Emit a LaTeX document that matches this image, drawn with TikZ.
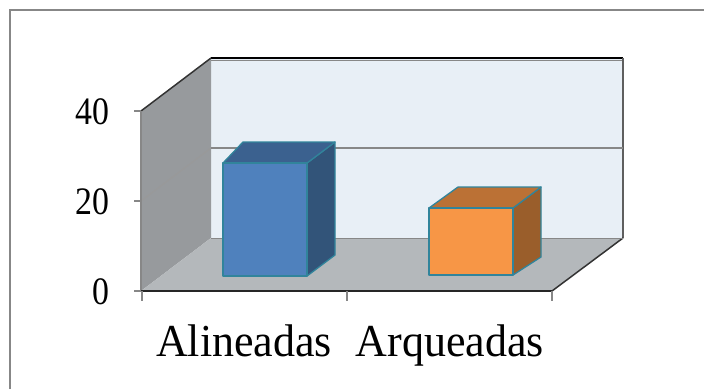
\documentclass[tikz,border=0pt]{standalone}
\usepackage{fontspec}
\setmainfont{Liberation Serif}
\definecolor{backwall}{HTML}{E8EFF6}
\definecolor{sidewall}{HTML}{979A9D}
\definecolor{floorgray}{HTML}{B4B8BB}
\definecolor{gridgray}{HTML}{878787}
\definecolor{barteal}{HTML}{31849B}
\definecolor{bluefront}{HTML}{4F81BD}
\definecolor{bluetop}{HTML}{3B618F}
\definecolor{blueside}{HTML}{325479}
\definecolor{orangefront}{HTML}{F79646}
\definecolor{orangetop}{HTML}{BB7135}
\definecolor{orangeside}{HTML}{9A5E2B}
\newcommand{\tallish}[1]{\scalebox{0.94}[1.08]{#1}}
\newcommand{\catstretch}[1]{\scalebox{1}[1.04]{#1}}
\tikzset{
  barface/.style = {draw = barteal, line width = 1.3pt, line join = round},
  ticklabel/.style = {anchor = east, font = \fontsize{36}{36}\selectfont},
  catlabel/.style = {font = \fontsize{44}{44}\selectfont}
}
\begin{document}
\begin{tikzpicture}[x = 1pt, y = -1pt]
  \useasboundingbox (0, 0) rectangle (704, 389);
  % walls and floor
  \fill [backwall] (211, 58) rectangle (623, 238);
  \fill [sidewall] (141, 111) -- (211, 58) -- (211, 238) -- (141, 291) -- cycle;
  \fill [floorgray] (141, 291) -- (211, 238) -- (623, 238) -- (552, 291) -- cycle;
  \draw [line width = 1.5pt] (211, 58) -- (623, 58);
  \draw [gridgray, line width = 1pt] (211, 60) -- (623, 60);
  \draw [gridgray!70!black, line width = 1.5pt] (623, 58) -- (623, 238);
  \draw [black!80, line width = 1.5pt] (141, 111) -- (211, 58);
  \draw [black!80, line width = 1.5pt] (552, 291) -- (623, 238);
  \draw [gridgray, line width = 1pt] (211, 238) -- (623, 238);
  % gridline at 20
  \draw [gridgray!85, line width = 1pt] (141, 201) -- (211, 148);
  \draw [gridgray, line width = 2pt] (211, 148) -- (623, 148);
  % blue bar
  \draw [barface, fill = blueside] (307, 163) -- (335, 142) -- (335, 255) -- (307, 276) -- cycle;
  \draw [barface, fill = bluetop] (223, 163) -- (243, 142) -- (335, 142) -- (307, 163) -- cycle;
  \draw [barface, fill = bluefront] (223, 163) rectangle (307, 276);
  % orange bar
  \draw [barface, fill = orangeside] (513, 208) -- (541, 187) -- (541, 257) -- (513, 275) -- cycle;
  \draw [barface, fill = orangetop] (429, 208) -- (458, 187) -- (541, 187) -- (513, 208) -- cycle;
  \draw [barface, fill = orangefront] (429, 208) rectangle (513, 275);
  % axes and ticks
  \draw [gridgray, line width = 1.5pt] (141, 111) -- (141, 291);
  \draw [black!85, line width = 1.5pt] (141, 291) -- (552, 291);
  \foreach \ty in {111, 201, 291}
    \draw [gridgray, line width = 1.5pt] (134, \ty) -- (141, \ty);
  \foreach \tx in {142, 347, 552}
    \draw [gridgray, line width = 1.5pt] (\tx, 291) -- (\tx, 301);
  % labels
  \node [ticklabel] (lab40) at (113, 112) {\tallish{40}};
  \node [ticklabel] (lab20) at (113, 202) {\tallish{20}};
  \node [ticklabel] (lab0) at (113, 292) {\tallish{0}};
  \node [catlabel, anchor = base] (alin) at (244, 356) {\catstretch{Alineadas}};
  \node [catlabel, anchor = base] (arq) at (450, 356) {\catstretch{Arqueadas}};
  % outer frame
  \draw [gridgray, line width = 2pt] (10, 389) -- (10, 10) -- (704, 10);
\end{tikzpicture}
\end{document}
